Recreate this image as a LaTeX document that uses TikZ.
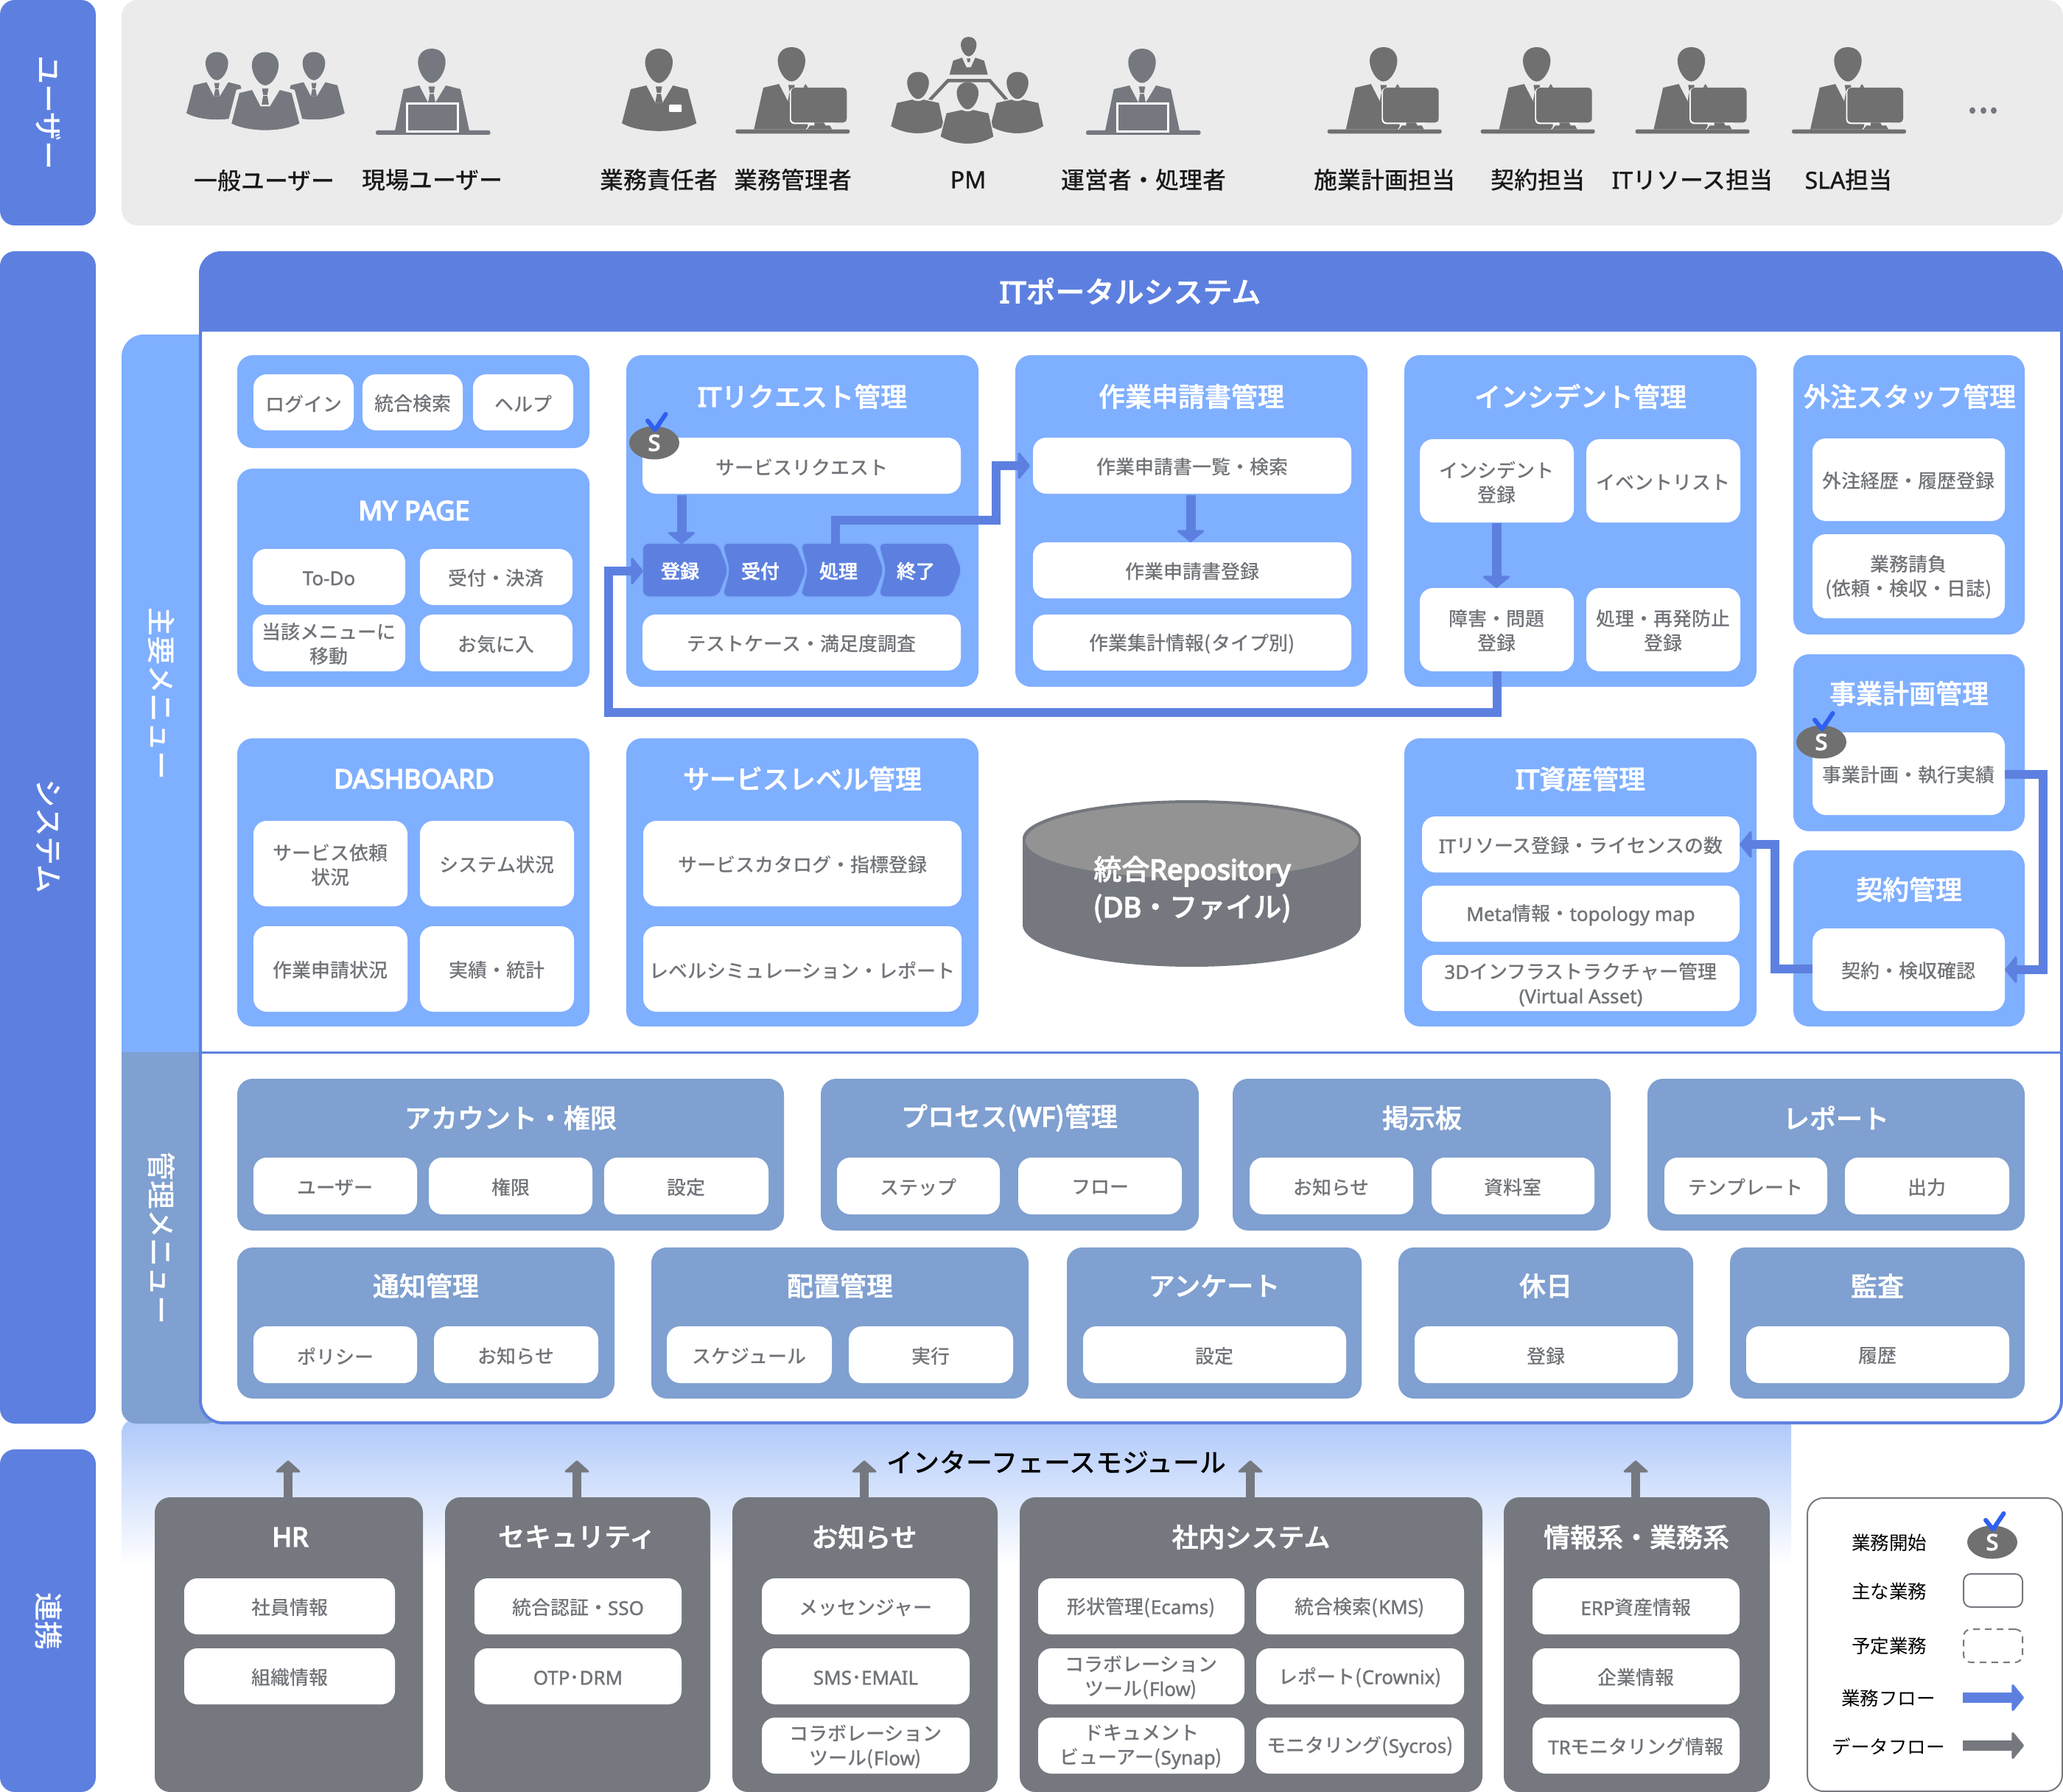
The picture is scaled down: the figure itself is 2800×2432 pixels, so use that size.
\documentclass[tikz,border=0pt]{standalone}
\usepackage{fontspec}
\setmainfont{Noto Sans CJK JP}[BoldFont={Noto Sans CJK JP Medium}]
\newfontfamily\latf{Noto Sans}[AutoFakeBold=1.2]
\newfontfamily\latbold{Noto Sans}[FakeBold=4.5]
\newfontfamily\ttlf{Noto Sans CJK JP Medium}[FakeBold=1.6]
\usetikzlibrary{arrows.meta,shapes.geometric,calc}
\definecolor{cBlue}{HTML}{5D80E0}
\definecolor{cLight}{HTML}{7FAFFF}
\definecolor{cSteel}{HTML}{7FA0D0}
\definecolor{cDark}{HTML}{75787F}
\definecolor{cGray}{HTML}{707070}
\definecolor{cBg}{HTML}{EBEBEB}
\definecolor{cTxt}{HTML}{707378}
\definecolor{cCheck}{HTML}{2F5FF0}
\definecolor{cGradTop}{HTML}{AEC8FA}
\definecolor{cCyl}{HTML}{939393}
\newcommand{\lat}[1]{{\latf #1}}
\newcommand{\latt}[1]{{\latbold #1}}
\newcommand{\fs}[2]{\fontsize{#1}{#2}\selectfont}
\tikzset{
  tabbox/.style={fill=cBlue,rounded corners=20,inner sep=0,outer sep=0},
  tabtext/.style={text=white,rotate=-90,font=\bfseries\fs{39}{44}},
  panel/.style={fill=cLight,rounded corners=21,inner sep=0,outer sep=0},
  steel/.style={fill=cSteel,rounded corners=21,inner sep=0,outer sep=0},
  dark/.style={fill=cDark,rounded corners=21,inner sep=0,outer sep=0},
  wbox/.style={fill=white,rounded corners=18,inner sep=0,outer sep=0},
  wtext/.style={inner sep=0,align=center,text=cTxt,font=\bfseries\fs{26}{33}},
  ttl/.style={text=white,font=\ttlf\fs{36}{42},inner sep=0},
  ulabel/.style={text=black!90,font=\fs{32}{36}\bfseries,inner sep=0},
  leg/.style={text=black,font=\fs{25.5}{30},inner sep=0},
  chvtext/.style={text=white,font=\ttlf\fs{26}{30},inner sep=0,outer sep=0,minimum height=73,minimum width=100},
  flow/.style={draw=cBlue,line width=12,-{Triangle[length=17pt,width=41pt,line width=3pt,round]}},
  dataarrow/.style={draw=cDark,line width=12,-{Triangle[length=17pt,width=37pt,line width=3pt,round]}},
  chev/.style={fill=cBlue,draw=#1,line width=1.5,rounded corners=9},
  chev/.default=cLight!85!cBlue,
  sbadge/.style={ellipse,fill=cGray,text=white,minimum width=68,minimum height=45,inner sep=0,font=\latbold\fs{30}{32}},
  checkmark/.style={draw=cCheck,line width=6,line cap=round,line join=round},
}
\newcommand{\bx}[7]{%
  \pgfmathsetmacro\bxcx{(#3+#5)/2}\pgfmathsetmacro\bxcy{(#4+#6)/2}%
  \pgfmathsetmacro\bxw{#5-#3}\pgfmathsetmacro\bxh{#6-#4}%
  \node[#1,minimum width=\bxw pt,minimum height=\bxh pt] (#2) at (\bxcx,\bxcy) {};
  \node[wtext] (#2-t) at ($(#2.center)+(0,2)$) {#7};}
\newcommand{\pn}[6]{%
  \pgfmathsetmacro\bxcx{(#3+#5)/2}\pgfmathsetmacro\bxcy{(#4+#6)/2}%
  \pgfmathsetmacro\bxw{#5-#3}\pgfmathsetmacro\bxh{#6-#4}%
  \node[#1,minimum width=\bxw pt,minimum height=\bxh pt] (#2) at (\bxcx,\bxcy) {};}
\newcommand{\headp}{\fill (0,-23.3) .. controls (12,-23.3) and (18.7,-15) .. (18.7,-5) .. controls (18.7,8) and (9,23.3) .. (0,23.3) .. controls (-9,23.3) and (-18.7,8) .. (-18.7,-5) .. controls (-18.7,-15) and (-12,-23.3) .. (0,-23.3) -- cycle;}
\newcommand{\tiep}{\fill (-4.3,28)--(4.3,28)--(2.7,36.7)--(-2.7,36.7)--cycle; \fill (-2.7,38)--(2.7,38)--(5,50)--(-5,50)--cycle;}
\newcommand{\bustpath}{(-17,26.7)--(-38.3,31.7)--(-50.3,78) .. controls (-25,92) and (25,92) .. (51,78) -- (39,31.7) -- (19,26.7) -- (5,50) -- (-5,50) -- cycle}
\newcommand{\bust}[4]{\begin{scope}[shift={(#1,#2)},scale=#3,color=#4]\headp\tiep\fill \bustpath;\end{scope}}
\newcommand{\laptop}[3]{\begin{scope}[shift={(#1,#2)},color=#3]\headp\tiep
  \fill (-17,26.7)--(-38.3,31.7)--(-50,88)--(51,88)--(39,31.7)--(19,26.7)--(5,50)--(-5,50)--cycle;
  \fill[rounded corners=2.5] (-76,87.7) rectangle (79.5,93.7);
  \draw[draw=white,fill=#3,line width=3] (-34,51.5) rectangle (35.5,89.5);\end{scope}}
\newcommand{\monitor}[3]{\begin{scope}[shift={(#1,#2)},color=#3]\headp\tiep
  \fill (-17,26.7)--(-38.3,31.7)--(-51,88.3)--(22,88.3)--(22,31)--(19,26.7)--(5,50)--(-5,50)--cycle;
  \fill[rounded corners=2.5] (-76,88.3) rectangle (79,94);
  \fill[white,rounded corners=6] (-2.3,31.7) rectangle (60,81);
  \fill[rounded corners=5] (-0.7,31.7) rectangle (75,79);
  \fill (31,79)--(44,79)--(46,83)--(52,83)--(55,88.3)--(21,88.3)--(25,83)--(31,83)--cycle;
  \draw[white,line width=1] (24,83)--(20,88.3);
  \end{scope}}
\newcommand{\plainperson}[3]{\begin{scope}[shift={(#1,#2)},scale=0.79,color=#3]\headp\end{scope}
  \begin{scope}[shift={(#1,#2)},color=#3]
  \fill[draw=cBg,line width=1.5] (-29.3,23)--(-7.7,18.3) .. controls (-3,21) and (3,21) .. (7.3,18.3)--(29,23)--(36,55.7) .. controls (15,69) and (-15,69) .. (-37.7,55.7)--cycle;
  \end{scope}}
\newcommand{\chk}[1]{\draw[checkmark] ($(#1.center)+(-9,-30)$) -- ($(#1.center)+(1,-17.5)$) -- ($(#1.center)+(15.5,-39)$);}
\begin{document}
\begin{tikzpicture}[x=1pt,y=-1pt]
\useasboundingbox (0,0) rectangle (2800,2432);
\fill[white] (0,0) rectangle (2800,2432);
% left tabs
\pn{tabbox}{tabU}{0}{0}{130}{306}
\pn{tabbox}{tabS}{0}{341}{130}{1932}
\pn{tabbox}{tabL}{0}{1967}{130}{2432}
\node[tabtext] (tabUt) at (66,153) {ユーザー};
\node[tabtext] (tabSt) at (66,1135) {システム};
\node[tabtext] (tabLt) at (66,2200) {連携};
% user band
\pn{fill=cBg,rounded corners=22,inner sep=0}{band}{165}{0}{2800}{306}
\bust{294.3}{89.7}{0.82}{cDark}
\bust{426}{89.7}{0.82}{cDark}
\begin{scope}[shift={(360,93.3)},scale=.97,color=cDark]\headp\tiep\fill[draw=cBg,line width=5] \bustpath;\tiep\end{scope}
\laptop{586}{89.3}{cDark}
\bust{894.3}{89.3}{1}{cGray}
\fill[white,rounded corners=1] (908,142) rectangle (925,152);
\monitor{1074.3}{87.3}{cGray}
% PM icon
\begin{scope}[shift={(1314.7,63.3)},color=cGray]
 \begin{scope}[scale=.57]\headp\end{scope}
 \fill (-21,19)--(-9,15)--(-3,28)--(3,28)--(9,15)--(21,19)--(26,38)--(-26,38)--cycle;
 \fill (-2.5,16)--(2.5,16)--(1.5,21)--(-1.5,21)--cycle;
\end{scope}
\draw[cGray,line width=4.5] (1261.7,136)--(1286.7,109.3)--(1343.3,109.3)--(1366.7,136);
\plainperson{1246}{116}{cGray}
\plainperson{1381}{116}{cGray}
\plainperson{1313.3}{130}{cGray}
\laptop{1550}{89.3}{cDark}
\monitor{1877.7}{87.3}{cGray}
\monitor{2085.7}{87.3}{cGray}
\monitor{2295.5}{87.3}{cGray}
\monitor{2508}{87.3}{cGray}
\fill[cDark] (2677,150) ellipse (4 and 4.5) (2692,150) ellipse (4 and 4.5) (2706,150) ellipse (4 and 4.5);
\node[ulabel] (u1) at (359,245) {一般ユーザー};
\node[ulabel] (u2) at (587,245) {現場ユーザー};
\node[ulabel] (u3) at (894,244) {業務責任者};
\node[ulabel] (u4) at (1076,244) {業務管理者};
\node[ulabel] (u5) at (1314,244) {\lat{PM}};
\node[ulabel] (u6) at (1552,244) {運営者・処理者};
\node[ulabel] (u7) at (1879,244) {施業計画担当};
\node[ulabel] (u8) at (2087,244) {契約担当};
\node[ulabel] (u9) at (2297,244) {\lat{IT}リソース担当};
\node[ulabel] (u10) at (2509,244) {\lat{SLA}担当};
% interface band
\shade[top color=cGradTop,bottom color=white] (165,2125) [rounded corners=20] -- (165,1925) [sharp corners] -- (2431,1925) -- (2431,2125) -- cycle;
% side menu tabs
\fill[cLight] (300,1428) -- (165,1428) [rounded corners=30] -- (165,454) -- (300,454) [sharp corners] -- cycle;
\fill[cSteel] (300,1428) -- (165,1428) [rounded corners=20] -- (165,1932) -- (300,1932) [sharp corners] -- cycle;
% portal body
\draw[cBlue,line width=4,fill=white,rounded corners=30] (272,420) rectangle (2798,1931);
\fill[cBlue] (270,450) [rounded corners=30] -- (270,341) -- (2800,341) -- (2800,400) [sharp corners] -- (2800,450) -- cycle;
\draw[cBlue,line width=3] (271,1428) -- (2800,1428);
\node[text=white,font=\ttlf\fs{40}{46},inner sep=0] (portal) at (1534,395) {\latt{IT}ポータルシステム};
\node[tabtext] (mainT) at (219,941) {主要メニュー};
\node[tabtext] (adminT) at (219,1680) {管理メニュー};
% login
\pn{panel}{pLogin}{322}{482}{800}{608}
\bx{wbox}{login}{344}{508}{480}{584}{ログイン}
\bx{wbox}{search}{492}{508}{628}{584}{統合検索}
\bx{wbox}{help}{642}{508}{778}{584}{ヘルプ}
% my page
\pn{panel}{pMy}{322}{636}{800}{932}
\node[ttl] (tMy) at (562,693) {\latt{MY PAGE}};
\bx{wbox}{my1}{343}{745}{550}{821}{\lat{To-Do}}
\bx{wbox}{my2}{570}{745}{777}{821}{受付・決済}
\bx{wbox}{my3}{343}{834}{550}{911}{当該メニューに\\移動}
\bx{wbox}{my4}{570}{834}{777}{911}{お気に入}
% IT request
\pn{panel}{pReq}{850}{482}{1328}{932}
\node[ttl] (tReq) at (1089,538) {\latt{IT}リクエスト管理};
\bx{wbox}{srq}{872}{594}{1304}{670}{サービスリクエスト}
\fill[chev] (872,737) -- (975,737) -- (989,774) -- (975,810) -- (872,810) -- cycle;
\fill[chev] (980,737) -- (1080,737) -- (1095,774) -- (1080,810) -- (980,810) -- (990,774) -- cycle;
\fill[chev] (1086,737) -- (1186,737) -- (1200,774) -- (1186,810) -- (1086,810) -- (1096,774) -- cycle;
\fill[chev] (1192,737) -- (1291,737) -- (1306,774) -- (1291,810) -- (1192,810) -- (1202,774) -- cycle;
\node[chvtext] (chv1) at (923,775) {登録};
\node[chvtext] (chv2) at (1032,775) {受付};
\node[chvtext] (chv3) at (1138,775) {処理};
\node[chvtext] (chv4) at (1243,775) {終了};
\bx{wbox}{tst}{872}{834}{1304}{910}{テストケース・満足度調査}
% work application
\pn{panel}{pWork}{1378}{482}{1856}{932}
\node[ttl] (tWork) at (1617,538) {作業申請書管理};
\bx{wbox}{wk1}{1402}{594}{1834}{670}{作業申請書一覧・検索}
\bx{wbox}{wk2}{1402}{736}{1834}{812}{作業申請書登録}
\bx{wbox}{wk3}{1402}{834}{1834}{910}{作業集計情報(タイプ別)}
% incident
\pn{panel}{pInc}{1906}{482}{2384}{932}
\node[ttl] (tInc) at (2145,538) {インシデント管理};
\bx{wbox}{inc1}{1927}{596}{2136}{709}{インシデント\\登録}
\bx{wbox}{inc2}{2153}{596}{2362}{709}{イベントリスト}
\bx{wbox}{inc3}{1927}{798}{2136}{911}{障害・問題\\登録}
\bx{wbox}{inc4}{2153}{798}{2362}{911}{処理・再発防止\\登録}
% outsourced staff
\pn{panel}{pOut}{2434}{482}{2748}{861}
\node[ttl] (tOut) at (2592,538) {外注スタッフ管理};
\bx{wbox}{out1}{2460}{595}{2721}{707}{外注経歴・履歴登録}
\bx{wbox}{out2}{2460}{725}{2721}{839}{業務請負\\(依頼・検収・日誌)}
% business plan
\pn{panel}{pPlan}{2434}{888}{2748}{1128}
\node[ttl] (tPlan) at (2591,941) {事業計画管理};
\bx{wbox}{plan}{2460}{994}{2721}{1106}{事業計画・執行実績}
% contract
\pn{panel}{pCon}{2434}{1154}{2748}{1393}
\node[ttl] (tCon) at (2591,1207) {契約管理};
\bx{wbox}{con}{2460}{1260}{2721}{1372}{契約・検収確認}
% dashboard
\pn{panel}{pDash}{322}{1002}{800}{1393}
\node[ttl] (tDash) at (562,1057) {\latt{DASHBOARD}};
\bx{wbox}{ds1}{344}{1114}{553}{1230}{サービス依頼\\状況}
\bx{wbox}{ds2}{570}{1114}{779}{1230}{システム状況}
\bx{wbox}{ds3}{344}{1257}{553}{1373}{作業申請状況}
\bx{wbox}{ds4}{570}{1257}{779}{1373}{実績・統計}
% service level
\pn{panel}{pSla}{850}{1002}{1328}{1393}
\node[ttl] (tSla) at (1089,1057) {サービスレベル管理};
\bx{wbox}{sl1}{873}{1114}{1305}{1230}{サービスカタログ・指標登録}
\bx{wbox}{sl2}{873}{1257}{1305}{1373}{レベルシミュレーション・レポート}
% cylinder
\fill[cDark] (1388,1138) arc[start angle=180,end angle=360,x radius=229.5,y radius=52] -- (1847,1255) arc[start angle=0,end angle=180,x radius=229.5,y radius=57] -- cycle;
\fill[cCyl] (1618,1141) ellipse (226 and 51);
\node[align=center,text=white,font=\ttlf\fs{38}{51},inner sep=0] (repo) at (1618,1207) {統合\latt{Repository}\\(\latt{DB}・ファイル)};
% IT assets
\pn{panel}{pAsset}{1906}{1002}{2384}{1393}
\node[ttl] (tAsset) at (2145,1057) {\latt{IT}資産管理};
\bx{wbox}{as1}{1930}{1108}{2361}{1184}{\lat{IT}リソース登録・ライセンスの数}
\bx{wbox}{as2}{1930}{1202}{2361}{1278}{\lat{Meta}情報・\lat{topology map}}
\bx{wbox}{as3}{1930}{1296}{2361}{1372}{\lat{3D}インフラストラクチャー管理\\\lat{(Virtual Asset)}}
% admin row 1
\pn{steel}{aAcc}{322}{1464}{1064}{1670}
\node[ttl] (tAcc) at (693,1517) {アカウント・権限};
\bx{wbox}{acc1}{344}{1571}{566}{1648}{ユーザー}
\bx{wbox}{acc2}{582}{1571}{804}{1648}{権限}
\bx{wbox}{acc3}{820}{1571}{1043}{1648}{設定}
\pn{steel}{aWf}{1114}{1464}{1627}{1670}
\node[ttl] (tWf) at (1370,1517) {プロセス(\latt{WF})管理};
\bx{wbox}{wf1}{1136}{1571}{1357}{1648}{ステップ}
\bx{wbox}{wf2}{1382}{1571}{1604}{1648}{フロー}
\pn{steel}{aBbs}{1673}{1464}{2186}{1670}
\node[ttl] (tBbs) at (1930,1517) {掲示板};
\bx{wbox}{bb1}{1696}{1571}{1918}{1648}{お知らせ}
\bx{wbox}{bb2}{1943}{1571}{2164}{1648}{資料室}
\pn{steel}{aRep}{2236}{1464}{2748}{1670}
\node[ttl] (tRep) at (2492,1517) {レポート};
\bx{wbox}{rp1}{2259}{1571}{2480}{1648}{テンプレート}
\bx{wbox}{rp2}{2504}{1571}{2727}{1648}{出力}
% admin row 2
\pn{steel}{aNtf}{322}{1693}{834}{1898}
\node[ttl] (tNtf) at (578,1745) {通知管理};
\bx{wbox}{nt1}{344}{1800}{566}{1877}{ポリシー}
\bx{wbox}{nt2}{589}{1800}{812}{1877}{お知らせ}
\pn{steel}{aDep}{884}{1693}{1396}{1898}
\node[ttl] (tDep) at (1140,1745) {配置管理};
\bx{wbox}{dp1}{905}{1800}{1129}{1877}{スケジュール}
\bx{wbox}{dp2}{1152}{1800}{1375}{1877}{実行}
\pn{steel}{aSur}{1448}{1693}{1848}{1898}
\node[ttl] (tSur) at (1648,1745) {アンケート};
\bx{wbox}{su1}{1470}{1800}{1827}{1877}{設定}
\pn{steel}{aHol}{1898}{1693}{2298}{1898}
\node[ttl] (tHol) at (2098,1745) {休日};
\bx{wbox}{ho1}{1920}{1800}{2277}{1877}{登録}
\pn{steel}{aAud}{2348}{1693}{2748}{1898}
\node[ttl] (tAud) at (2548,1745) {監査};
\bx{wbox}{au1}{2370}{1800}{2727}{1877}{履歴}
% interface text
\node[text=black,font=\fs{36}{40}\bfseries,inner sep=0] (ifm) at (1434,1985) {インターフェースモジュール};
% link boxes
\pn{dark}{lHr}{210}{2032}{574}{2432}
\pn{dark}{lSec}{604}{2032}{964}{2432}
\pn{dark}{lNew}{994}{2032}{1354}{2432}
\pn{dark}{lIn}{1384}{2032}{2012}{2432}
\pn{dark}{lInf}{2041}{2032}{2402}{2432}
\node[ttl] (tHr) at (394,2086) {\latt{HR}};
\node[ttl] (tSec) at (783,2086) {セキュリティ};
\node[ttl] (tNew) at (1173,2086) {お知らせ};
\node[ttl] (tIn) at (1698,2086) {社内システム};
\node[ttl] (tInf) at (2221,2086) {情報系・業務系};
\bx{wbox}{hr1}{250}{2142}{536}{2218}{社員情報}
\bx{wbox}{hr2}{250}{2237}{536}{2313}{組織情報}
\bx{wbox}{se1}{644}{2142}{925}{2218}{統合認証・\lat{SSO}}
\bx{wbox}{se2}{644}{2237}{925}{2313}{\lat{OTP}･\lat{DRM}}
\bx{wbox}{nw1}{1034}{2142}{1316}{2218}{メッセンジャー}
\bx{wbox}{nw2}{1034}{2237}{1316}{2313}{\lat{SMS}･\lat{EMAIL}}
\bx{wbox}{nw3}{1034}{2331}{1316}{2407}{コラボレーション\\ツール(\lat{Flow})}
\bx{wbox}{in1}{1409}{2142}{1689}{2218}{形状管理(\lat{Ecams})}
\bx{wbox}{in2}{1705}{2142}{1987}{2218}{統合検索(\lat{KMS})}
\bx{wbox}{in3}{1409}{2237}{1689}{2313}{コラボレーション\\ツール(\lat{Flow})}
\bx{wbox}{in4}{1705}{2237}{1987}{2313}{レポート(\lat{Crownix})}
\bx{wbox}{in5}{1409}{2331}{1689}{2407}{ドキュメント\\ビューアー(\lat{Synap})}
\bx{wbox}{in6}{1705}{2331}{1987}{2407}{モニタリング(\lat{Sycros})}
\bx{wbox}{if1}{2080}{2142}{2361}{2218}{\lat{ERP}資産情報}
\bx{wbox}{if2}{2080}{2237}{2361}{2313}{企業情報}
\bx{wbox}{if3}{2080}{2331}{2361}{2407}{\lat{TR}モニタリング情報}
% data arrows
\coordinate (upHr) at (391,1982);
\coordinate (upSec) at (783,1982);
\coordinate (upNew) at (1173,1982);
\coordinate (upIn) at (1697,1982);
\coordinate (upInf) at (2220,1982);
\draw[dataarrow] (upHr |- lHr.north) -- (upHr);
\draw[dataarrow] (upSec |- lSec.north) -- (upSec);
\draw[dataarrow] (upNew |- lNew.north) -- (upNew);
\draw[dataarrow] (upIn |- lIn.north) -- (upIn);
\draw[dataarrow] (upInf |- lInf.north) -- (upInf);
% business flows
\coordinate (sd1) at (925,672);
\draw[flow,line width=13] (sd1) -- (sd1 |- chv1.north);
\coordinate (sd2) at (1616,672);
\draw[flow,line width=13] (sd2) -- (sd2 |- wk2.north);
\coordinate (sd3) at (2031,710);
\draw[flow,line width=13] (sd3) -- (sd3 |- inc3.north);
\coordinate (turnA) at (1352,706);
\draw[flow,shorten >=4pt] ([xshift=-4pt]chv3.north) |- (turnA) |- (wk1.west);
\coordinate (turnB) at (825.5,967);
\draw[flow] (inc3.south) |- (turnB) |- (chv1.west);
\coordinate (turnC) at (2772.5,1051);
\draw[flow] (plan.east |- turnC) -- (turnC) |- (con.east);
\coordinate (turnD) at (2408.6,1315);
\draw[flow] (con.west |- turnD) -- (turnD) |- (as1.east);
% start badges
\node[sbadge] (s1) at (888,601) {S}; \chk{s1}
\node[sbadge] (s2) at (2472,1007) {S}; \chk{s2}
% legend
\pn{draw=cDark,line width=2,rounded corners=22,fill=white,inner sep=0}{legend}{2453}{2033}{2799}{2431}
\node[leg] (l1) at (2564,2094) {業務開始};
\node[sbadge] (s3) at (2704,2093) {S}; \chk{s3}
\node[leg] (l2) at (2564,2160) {主な業務};
\pn{draw=cDark,line width=2,rounded corners=10,inner sep=0}{lg2}{2665}{2136}{2745}{2181}
\node[leg] (l3) at (2564,2234) {予定業務};
\pn{draw=cDark,line width=2,rounded corners=10,dash pattern=on 9pt off 7pt,inner sep=0}{lg3}{2665}{2211}{2745}{2256}
\node[leg] (l4) at (2563,2305) {業務フロー};
\coordinate (lfA) at (2664,2304); \coordinate (lfB) at (2747,2304);
\draw[flow,line width=14] (lfA) -- (lfB);
\node[leg] (l5) at (2563,2370) {データフロー};
\coordinate (ldA) at (2664,2369); \coordinate (ldB) at (2747,2369);
\draw[dataarrow,line width=14,-{Triangle[length=17pt,width=41pt,line width=3pt,round]}] (ldA) -- (ldB);
\end{tikzpicture}
\end{document}
